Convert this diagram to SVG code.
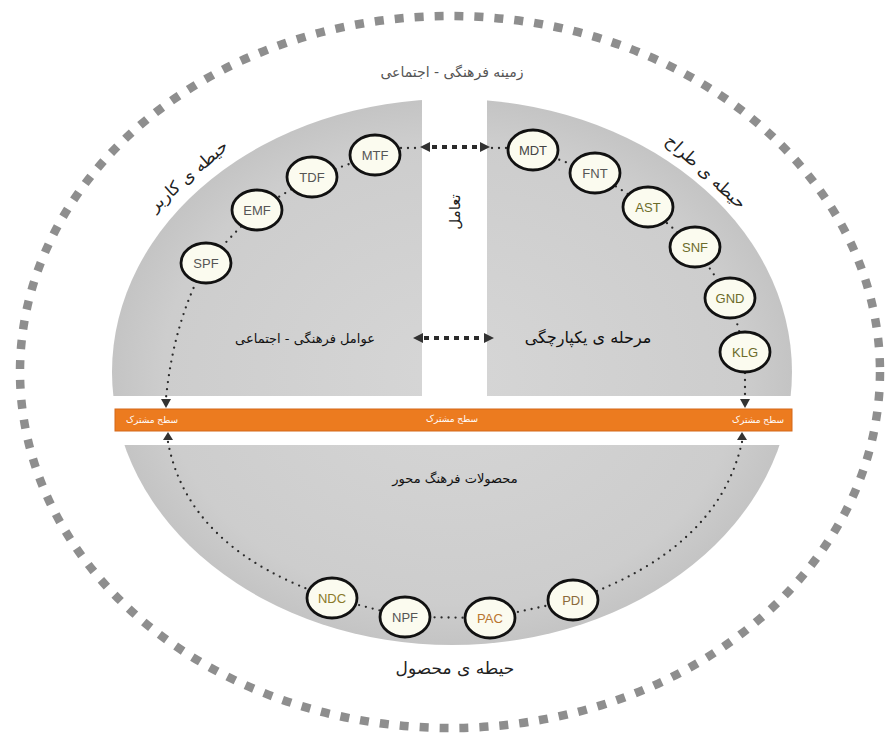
<svg xmlns="http://www.w3.org/2000/svg" width="886" height="736" viewBox="0 0 886 736">
<style>
.fa{font-family:"DejaVu Sans",sans-serif;text-anchor:middle;}
.lbl{font-family:"Liberation Sans",Arial,sans-serif;font-size:13px;text-anchor:middle;dominant-baseline:central;}
.node ellipse{fill:#fbfbef;stroke:#111;stroke-width:2.8;}
.dot{fill:none;stroke:#2a2a2a;stroke-width:2.3;stroke-linecap:round;stroke-dasharray:0 7;}
.sq{fill:none;stroke:#2a2a2a;stroke-width:4;stroke-dasharray:5 5;}
.ah{fill:#333;}
</style>
<defs>
<radialGradient id="g" cx="0.5" cy="0.5" r="0.5">
<stop offset="0" stop-color="#d6d6d6"/>
<stop offset="0.85" stop-color="#cdcdcd"/>
<stop offset="1" stop-color="#c4c4c4"/>
</radialGradient>
<clipPath id="cp">
<rect x="0" y="0" width="422" height="396"/>
<rect x="487" y="0" width="400" height="396"/>
<rect x="0" y="445" width="886" height="300"/>
</clipPath>
</defs>
<rect width="886" height="736" fill="#ffffff"/>
<g id="outer-ring">
<ellipse cx="450" cy="372" rx="430" ry="356" fill="none" stroke="#8e8e8e" stroke-width="8.5" stroke-dasharray="9 11"/>
</g>
<g id="regions">
<ellipse cx="452" cy="372" rx="340" ry="273" fill="url(#g)" clip-path="url(#cp)"/>
<rect x="115" y="409" width="677" height="22" fill="#ec7b1f" stroke="#d4691a" stroke-width="1"/>
</g>
<g id="connectors">
<path class="dot" d="M375,155 L312,177 L257,210 L206,263"/>
<path class="dot" d="M533,150 L595,173 L648,207 L695,247 L730,298 L745,352"/>
<path class="dot" d="M332,598 L405,617 L490,618 L573,600"/>
<path class="dot" d="M206,263 Q174,320 166,398"/>
<path class="dot" d="M745,352 L745,398"/>
<path class="dot" d="M168,442 Q188,550 332,598"/>
<path class="dot" d="M742,442 Q718,550 573,600"/>
<polygon class="ah" points="161,399 171,399 166,408"/>
<polygon class="ah" points="163,440 173,440 168,432"/>
<polygon class="ah" points="740,399 750,399 745,408"/>
<polygon class="ah" points="737,440 747,440 742,432"/>
<path class="dot" d="M401,148 L418,148"/>
<path class="dot" d="M492,148 L508,148"/>
<path class="sq" d="M432,147 L478,147"/>
<polygon class="ah" points="420,147 430,142 430,152"/>
<polygon class="ah" points="490,147 480,142 480,152"/>
<path class="sq" d="M424,338 L484,338"/>
<polygon class="ah" points="413,338 423,333 423,343"/>
<polygon class="ah" points="494,338 484,333 484,343"/>
</g>
<g id="n-MTF" class="node"><ellipse cx="375" cy="155" rx="25" ry="20"/><text class="lbl" x="375" y="155" fill="#555">MTF</text></g>
<g id="n-TDF" class="node"><ellipse cx="312" cy="177" rx="25" ry="20"/><text class="lbl" x="312" y="177" fill="#555">TDF</text></g>
<g id="n-EMF" class="node"><ellipse cx="257" cy="210" rx="25" ry="20"/><text class="lbl" x="257" y="210" fill="#555">EMF</text></g>
<g id="n-SPF" class="node"><ellipse cx="206" cy="263" rx="25" ry="20"/><text class="lbl" x="206" y="263" fill="#555">SPF</text></g>
<g id="n-MDT" class="node"><ellipse cx="533" cy="150" rx="25" ry="20"/><text class="lbl" x="533" y="150" fill="#444">MDT</text></g>
<g id="n-FNT" class="node"><ellipse cx="595" cy="173" rx="25" ry="20"/><text class="lbl" x="595" y="173" fill="#555">FNT</text></g>
<g id="n-AST" class="node"><ellipse cx="648" cy="207" rx="25" ry="20"/><text class="lbl" x="648" y="207" fill="#6b6b2a">AST</text></g>
<g id="n-SNF" class="node"><ellipse cx="695" cy="247" rx="25" ry="20"/><text class="lbl" x="695" y="247" fill="#6b6b2a">SNF</text></g>
<g id="n-GND" class="node"><ellipse cx="730" cy="298" rx="25" ry="20"/><text class="lbl" x="730" y="298" fill="#6b6b2a">GND</text></g>
<g id="n-KLG" class="node"><ellipse cx="745" cy="352" rx="25" ry="20"/><text class="lbl" x="745" y="352" fill="#6b6b2a">KLG</text></g>
<g id="n-NDC" class="node"><ellipse cx="332" cy="598" rx="25" ry="20"/><text class="lbl" x="332" y="598" fill="#8a7a2a">NDC</text></g>
<g id="n-NPF" class="node"><ellipse cx="405" cy="617" rx="25" ry="20"/><text class="lbl" x="405" y="617" fill="#555">NPF</text></g>
<g id="n-PAC" class="node"><ellipse cx="490" cy="618" rx="25" ry="20"/><text class="lbl" x="490" y="618" fill="#b8742e">PAC</text></g>
<g id="n-PDI" class="node"><ellipse cx="573" cy="600" rx="25" ry="20"/><text class="lbl" x="573" y="600" fill="#8a6a3a">PDI</text></g>
<g id="labels">
<text class="fa" x="452" y="77" font-size="14" fill="#555">زمینه فرهنگی - اجتماعی</text>
<text class="fa" font-size="17" fill="#222" transform="translate(192,180) rotate(-41)">حیطه ی کاربر</text>
<text class="fa" font-size="17" fill="#222" transform="translate(702,176) rotate(42)">حیطه ی طراح</text>
<text class="fa" font-size="15" fill="#222" transform="translate(460,212) rotate(-90)">تعامل</text>
<text class="fa" x="305" y="343" font-size="13" fill="#111">عوامل فرهنگی - اجتماعی</text>
<text class="fa" x="588" y="343" font-size="16" fill="#111">مرحله ی یکپارچگی</text>
<text class="fa" x="152" y="423" font-size="9" fill="#fff">سطح مشترک</text>
<text class="fa" x="452" y="422" font-size="9" fill="#fff">سطح مشترک</text>
<text class="fa" x="758" y="423" font-size="9" fill="#fff">سطح مشترک</text>
<text class="fa" x="455" y="483" font-size="13" fill="#111">محصولات فرهنگ محور</text>
<text class="fa" x="455" y="674" font-size="17" fill="#222">حیطه ی محصول</text>
</g>
</svg>
